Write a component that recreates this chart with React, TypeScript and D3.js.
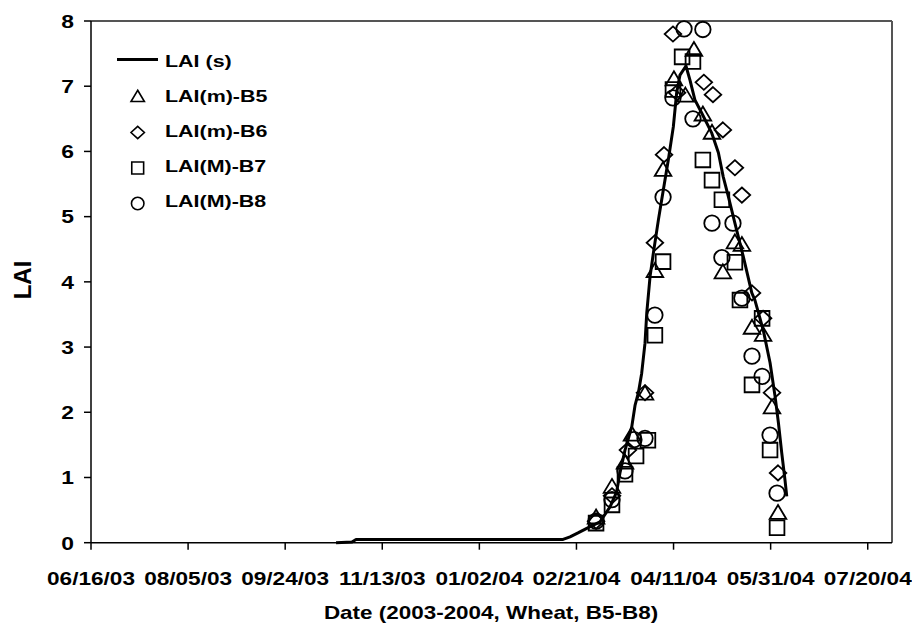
import React from "react";
import * as d3 from "d3";

// Day offsets are counted from 06/16/2003 (axis origin)
const START_UTC = Date.UTC(2003, 5, 16);
const xTickDays = [0, 50, 100, 150, 200, 250, 300, 350, 400];
const yTicks = [0, 1, 2, 3, 4, 5, 6, 7, 8];

// Simulated LAI (s)
const simDay = [126.2, 134.4, 136.5, 243.1, 246.7, 250.8, 255.3, 262.1, 267.3, 270.7, 272.4, 275.0, 278.5, 280.2, 281.9, 283.6, 285.3, 286.2, 287.9, 289.6, 292.2, 293.9, 297.3, 299.9, 301.6, 303.3, 306.4, 308.5, 311.0, 314.5, 319.7, 323.1, 325.6, 328.2, 331.6, 335.9, 340.3, 341.9, 346.2, 349.7, 352.3, 354.0, 355.7, 357.4, 358.3];
const simLai = [0, 0.01, 0.05, 0.05, 0.09, 0.15, 0.22, 0.32, 0.55, 0.78, 1.07, 1.42, 1.78, 2.11, 2.30, 2.60, 3.06, 3.52, 4.08, 4.44, 4.95, 5.26, 5.87, 6.38, 6.90, 7.17, 7.31, 7.09, 6.79, 6.59, 6.28, 5.98, 5.61, 5.31, 4.90, 4.39, 3.83, 3.72, 3.26, 2.76, 2.24, 1.84, 1.38, 0.96, 0.71];

// LAI(m)-B5 (triangles)
const b5Day = [260.1, 268.3, 275.0, 278.6, 285.3, 290.4, 294.6, 300.2, 306.1, 310.5, 315.1, 319.8, 325.4, 331.6, 335.2, 340.4, 346.1, 350.7, 353.8];
const b5Lai = [0.38, 0.85, 1.22, 1.65, 2.28, 4.16, 5.71, 7.10, 6.85, 7.55, 6.56, 6.28, 4.14, 4.60, 4.56, 3.29, 3.18, 2.07, 0.45];

// LAI(m)-B6 (diamonds)
const b6Day = [260.1, 268.3, 276.5, 285.3, 290.4, 295.1, 299.7, 301.8, 315.6, 320.3, 325.4, 331.6, 335.2, 340.4, 346.1, 350.7, 353.8];
const b6Lai = [0.33, 0.72, 1.42, 2.30, 4.60, 5.95, 7.80, 6.90, 7.06, 6.87, 6.33, 5.75, 5.33, 3.83, 3.44, 2.30, 1.07];

// LAI(M)-B7 (squares)
const b7Day = [260.1, 268.3, 275.0, 280.7, 286.8, 290.4, 294.6, 299.7, 304.4, 310.0, 315.1, 319.8, 324.9, 331.6, 334.2, 340.4, 345.6, 349.7, 353.3];
const b7Lai = [0.30, 0.58, 1.05, 1.33, 1.57, 3.18, 4.31, 6.95, 7.45, 7.38, 5.87, 5.56, 5.26, 4.30, 3.72, 2.42, 3.44, 1.42, 0.23];

// LAI(M)-B8 (circles)
const b8Day = [260.1, 268.3, 275.0, 279.6, 285.3, 290.4, 294.6, 299.7, 305.4, 310.0, 315.1, 319.8, 324.9, 330.6, 335.2, 340.4, 345.6, 349.7, 353.3];
const b8Lai = [0.33, 0.66, 1.10, 1.58, 1.60, 3.49, 5.30, 6.82, 7.88, 6.50, 7.87, 4.90, 4.37, 4.90, 3.75, 2.86, 2.55, 1.65, 0.76];

const legendLabels = ["LAI (s)", "LAI(m)-B5", "LAI(m)-B6", "LAI(M)-B7", "LAI(M)-B8"];
const xTitle = "Date (2003-2004, Wheat, B5-B8)";
const yTitle = "LAI";

const FONT = "'Liberation Sans', Arial, Helvetica, sans-serif";
const SX = 1.3;

type Kind = "tri" | "dia" | "sq" | "cir";

function markerPath(kind: Kind, cx: number, cy: number, s: number): string {
  if (kind === "tri") {
    const w = s * 1.07, h = s * 0.9;
    return `M${cx},${cy - h * 0.6}L${cx + w / 2},${cy + h * 0.4}L${cx - w / 2},${cy + h * 0.4}Z`;
  }
  if (kind === "dia") {
    const w = s * 1.07, h = s * 0.98;
    return `M${cx},${cy - h / 2}L${cx + w / 2},${cy}L${cx},${cy + h / 2}L${cx - w / 2},${cy}Z`;
  }
  if (kind === "sq") {
    const a = s * 0.95;
    return `M${cx - a / 2},${cy - a / 2}h${a}v${a}h${-a}Z`;
  }
  const r = s * 0.5;
  return `M${cx - r},${cy}a${r},${r} 0 1,0 ${2 * r},0a${r},${r} 0 1,0 ${-2 * r},0Z`;
}

function T(props: { x: number; y: number; size: number; anchor?: string; sx?: number; children: React.ReactNode }) {
  const { x, y, size, anchor = "start", sx = SX, children } = props;
  return (
    <text
      transform={`translate(${x},${y}) scale(${sx},1)`}
      textAnchor={anchor as any}
      fontFamily={FONT}
      fontWeight="bold"
      fontSize={size}
      fill="#000"
    >
      {children}
    </text>
  );
}

export default function App() {
  const W = 912, H = 625;
  const left = 91, right = 892, top = 21, bottom = 542.7;
  const x = d3.scaleLinear().domain([0, 412.5]).range([left, right]);
  const y = d3.scaleLinear().domain([0, 8]).range([bottom, top]);
  const fmt = d3.utcFormat("%m/%d/%y");

  const simPts: [number, number][] = simDay.map((d, i) => [d, simLai[i]]);
  const line = d3.line<[number, number]>().x((p) => x(p[0])).y((p) => y(p[1])).curve(d3.curveLinear);

  const series: { kind: Kind; day: number[]; lai: number[] }[] = [
    { kind: "tri", day: b5Day, lai: b5Lai },
    { kind: "dia", day: b6Day, lai: b6Lai },
    { kind: "sq", day: b7Day, lai: b7Lai },
    { kind: "cir", day: b8Day, lai: b8Lai },
  ];

  const legendY = [59.5, 97, 132.5, 168, 203.5];
  const legendTextY = [66.5, 101.7, 136.8, 172, 207.2];

  return (
    <svg width={W} height={H} style={{ position: "absolute", left: 0, top: 0, display: "block", background: "#fff" }}>
      <rect x={0} y={0} width={W} height={H} fill="#fff" />
      {/* frame */}
      <line x1={left} x2={right} y1={top} y2={top} stroke="#555" strokeWidth={2} />
      <line x1={right} x2={right} y1={top} y2={bottom} stroke="#555" strokeWidth={2} />
      <line x1={left} x2={left} y1={top} y2={bottom} stroke="#000" strokeWidth={1.5} />
      <line x1={left} x2={right} y1={bottom} y2={bottom} stroke="#000" strokeWidth={1.5} />

      {/* y ticks */}
      {yTicks.map((t) => (
        <g key={"y" + t}>
          <line x1={left - 7} x2={left} y1={y(t)} y2={y(t)} stroke="#000" strokeWidth={1.5} />
          <T x={74} y={y(t) + 6.8} size={18} sx={1.27} anchor="end">{String(t)}</T>
        </g>
      ))}

      {/* x ticks */}
      {xTickDays.map((d) => (
        <g key={"x" + d}>
          <line x1={x(d)} x2={x(d)} y1={bottom} y2={bottom + 7} stroke="#000" strokeWidth={1.5} />
          <T x={x(d)} y={584.5} size={17.8} sx={1.27} anchor="middle">{fmt(new Date(START_UTC + d * 864e5))}</T>
        </g>
      ))}

      {/* axis titles */}
      <T x={491} y={618.5} size={18.4} sx={1.22} anchor="middle">{xTitle}</T>
      <text
        transform={`translate(31,280) rotate(-90)`}
        textAnchor="middle"
        fontFamily={FONT}
        fontWeight="bold"
        fontSize={24}
      >
        {yTitle}
      </text>

      {/* observed markers */}
      {series.map((s) =>
        s.day.map((d, i) => (
          <path
            key={s.kind + i}
            d={markerPath(s.kind, x(d), y(s.lai[i]), 15.5)}
            fill="none"
            stroke="#000"
            strokeWidth={1.8}
          />
        ))
      )}

      {/* simulated line */}
      <path d={line(simPts) || ""} fill="none" stroke="#000" strokeWidth={3} strokeLinejoin="round" />

      {/* legend */}
      <line x1={117} x2={158} y1={legendY[0]} y2={legendY[0]} stroke="#000" strokeWidth={3} />
      <T x={165} y={legendTextY[0]} size={16.5}>{legendLabels[0]}</T>
      {series.map((s, i) => (
        <g key={"lg" + i}>
          <path d={markerPath(s.kind, 137.7, legendY[i + 1], 12.5)} fill="none" stroke="#000" strokeWidth={1.6} />
          <T x={165} y={legendTextY[i + 1]} size={16.5}>{legendLabels[i + 1]}</T>
        </g>
      ))}
    </svg>
  );
}
